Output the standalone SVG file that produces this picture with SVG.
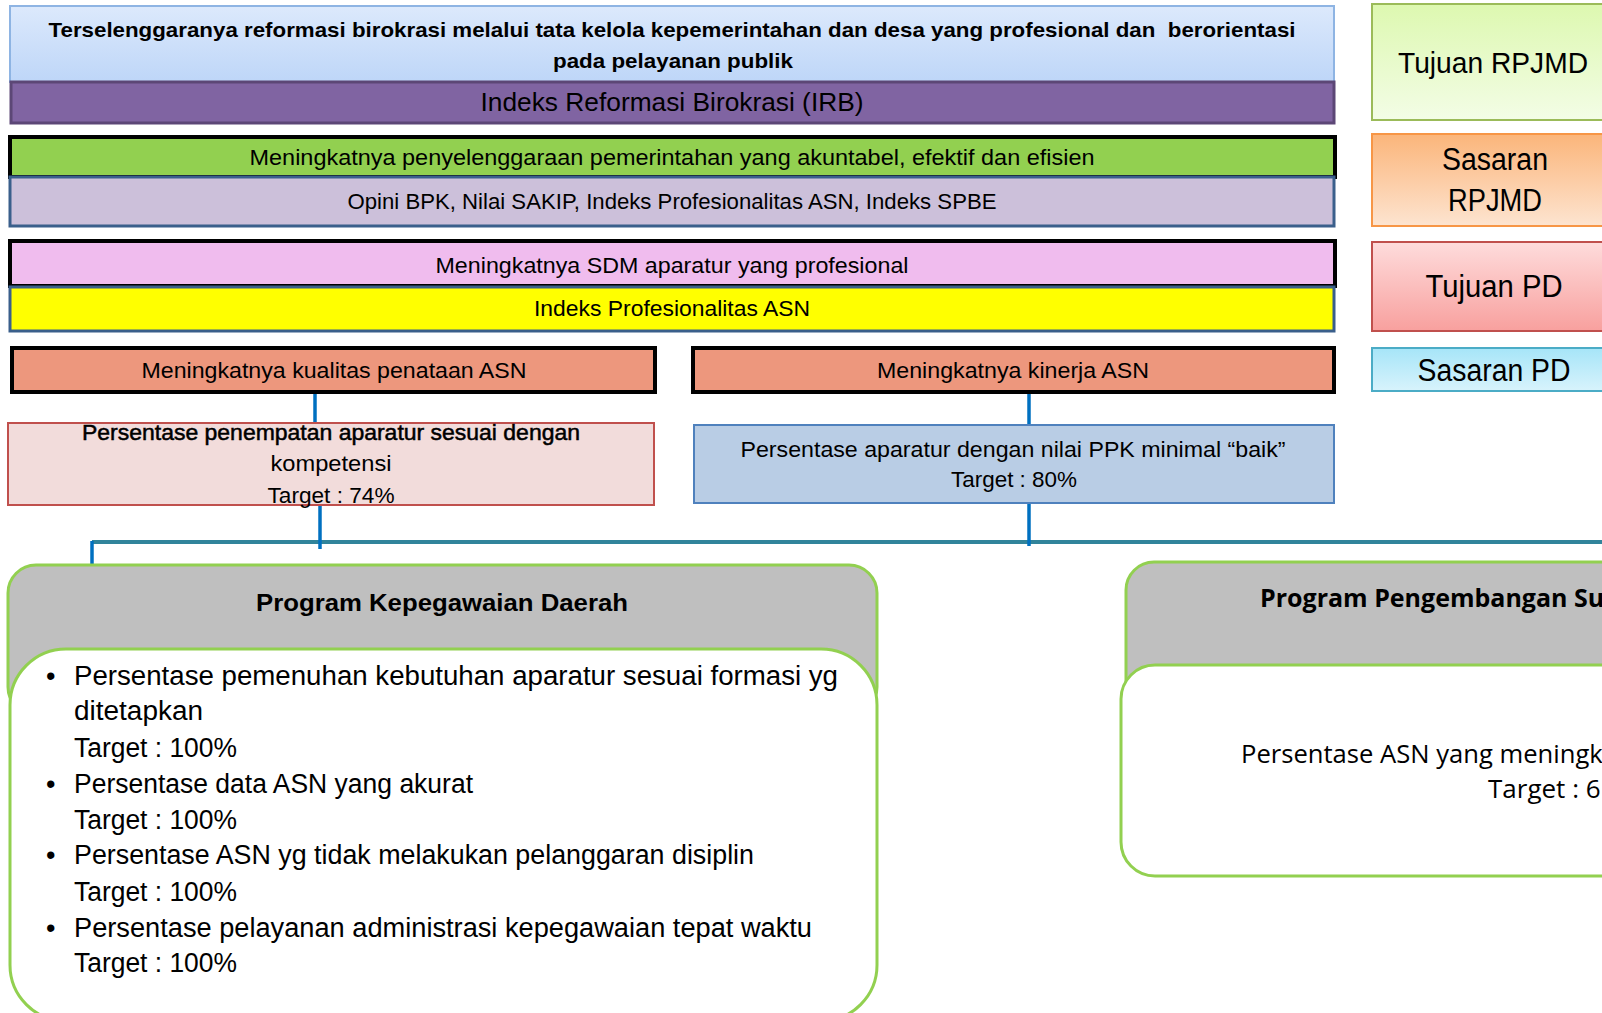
<svg xmlns="http://www.w3.org/2000/svg" width="1602" height="1013" viewBox="0 0 1602 1013">
<defs>
<linearGradient id="gTop" x1="0" y1="0" x2="0" y2="1"><stop offset="0" stop-color="#dce9fc"/><stop offset="1" stop-color="#bed6f8"/></linearGradient>
<linearGradient id="gTR" x1="0" y1="0" x2="0" y2="1"><stop offset="0" stop-color="#ddf8b0"/><stop offset="1" stop-color="#f3fde6"/></linearGradient>
<linearGradient id="gSR" x1="0" y1="0" x2="0" y2="1"><stop offset="0" stop-color="#fbb57a"/><stop offset="1" stop-color="#fde4d0"/></linearGradient>
<linearGradient id="gTP" x1="0" y1="0" x2="0" y2="1"><stop offset="0" stop-color="#fedcdc"/><stop offset="1" stop-color="#f8a09e"/></linearGradient>
<linearGradient id="gSP" x1="0" y1="0" x2="0" y2="1"><stop offset="0" stop-color="#a6e5f8"/><stop offset="1" stop-color="#d8f3fc"/></linearGradient>
</defs>
<style>
text{font-family:"Liberation Sans",Arial,sans-serif;fill:#000}
.c{text-anchor:middle}
.b{font-weight:bold}
.f22{font-size:22px}
.f27{font-size:27px}
.f31{font-size:31px}
.os{font-family:"Open Sans","Noto Sans",sans-serif}
.semi{stroke:#000;stroke-width:0.5}
.vline{stroke:#0070c0;stroke-width:3.5;fill:none}
.hline{stroke:#31849b;stroke-width:4;fill:none}
.prog{fill:#bfbfbf;stroke:#92d050;stroke-width:3}
.inner{fill:#fff;stroke:#92d050;stroke-width:3}
</style>
<rect width="1602" height="1013" fill="#fff"/>

<g id="connectors">
<line class="vline" x1="315" y1="392" x2="315" y2="423"/>
<line class="vline" x1="1029" y1="392" x2="1029" y2="425"/>
<line class="hline" x1="92" y1="542" x2="1604" y2="542"/>
<line class="vline" x1="320" y1="505" x2="320" y2="549"/>
<line class="vline" x1="1029" y1="503" x2="1029" y2="546"/>
<line class="vline" x1="92" y1="541" x2="92" y2="566"/>
</g>

<g id="tujuan-rpjmd-node">
<rect x="10" y="6" width="1324" height="76" fill="url(#gTop)" stroke="#8eb4e3" stroke-width="2"/>
<text class="c b" x="672" y="37" font-size="21" textLength="1247" lengthAdjust="spacingAndGlyphs" xml:space="preserve">Terselenggaranya reformasi birokrasi melalui tata kelola kepemerintahan dan desa yang profesional dan  berorientasi</text>
<text class="c b" x="673" y="68" font-size="21" textLength="240" lengthAdjust="spacingAndGlyphs">pada pelayanan publik</text>
</g>

<g id="irb-node">
<rect x="11" y="82" width="1323" height="41" fill="#8064a2" stroke="#5c4776" stroke-width="3"/>
<text class="c" x="672" y="111" font-size="26" textLength="383" lengthAdjust="spacingAndGlyphs">Indeks Reformasi Birokrasi (IRB)</text>
</g>

<g id="sasaran-rpjmd-node">
<rect x="10" y="137" width="1325" height="40" fill="#92d050" stroke="#000" stroke-width="4"/>
<text class="c f22" x="672" y="165" textLength="845" lengthAdjust="spacingAndGlyphs">Meningkatnya penyelenggaraan pemerintahan yang akuntabel, efektif dan efisien</text>
</g>
<g id="sasaran-rpjmd-indicator">
<rect x="10" y="177" width="1324" height="49" fill="#ccc0da" stroke="#3a5f8b" stroke-width="3"/>
<text class="c f22" x="672" y="209" textLength="649" lengthAdjust="spacingAndGlyphs">Opini BPK, Nilai SAKIP, Indeks Profesionalitas ASN, Indeks SPBE</text>
</g>

<g id="tujuan-pd-node">
<rect x="10" y="241" width="1325" height="45" fill="#f0bcee" stroke="#000" stroke-width="4"/>
<text class="c f22" x="672" y="273" textLength="473" lengthAdjust="spacingAndGlyphs">Meningkatnya SDM aparatur yang profesional</text>
</g>
<g id="tujuan-pd-indicator">
<rect x="10" y="287" width="1324" height="44" fill="#ffff00" stroke="#3a5f8b" stroke-width="3"/>
<text class="c f22" x="672" y="316" textLength="276" lengthAdjust="spacingAndGlyphs">Indeks Profesionalitas ASN</text>
</g>

<g id="sasaran-pd-1">
<rect x="12" y="348" width="643" height="44" fill="#ed977d" stroke="#000" stroke-width="4"/>
<text class="c f22" x="334" y="378" textLength="385" lengthAdjust="spacingAndGlyphs">Meningkatnya kualitas penataan ASN</text>
</g>
<g id="sasaran-pd-2">
<rect x="693" y="348" width="641" height="44" fill="#ed977d" stroke="#000" stroke-width="4"/>
<text class="c f22" x="1013" y="378" textLength="272" lengthAdjust="spacingAndGlyphs">Meningkatnya kinerja ASN</text>
</g>

<g id="indikator-1">
<rect x="8" y="423" width="646" height="82" fill="#f2dcdb" stroke="#c0504d" stroke-width="2"/>
<text class="c f22 semi" x="331" y="440" textLength="498" lengthAdjust="spacingAndGlyphs">Persentase penempatan aparatur sesuai dengan</text>
<text class="c f22" x="331" y="471" textLength="121" lengthAdjust="spacingAndGlyphs">kompetensi</text>
<text class="c f22" x="331" y="503" textLength="127" lengthAdjust="spacingAndGlyphs">Target : 74%</text>
</g>
<g id="indikator-2">
<rect x="694" y="425" width="640" height="78" fill="#b9cde5" stroke="#4f81bd" stroke-width="2"/>
<text class="c f22" x="1013" y="457" textLength="545" lengthAdjust="spacingAndGlyphs">Persentase aparatur dengan nilai PPK minimal “baik”</text>
<text class="c f22" x="1014" y="487" textLength="126" lengthAdjust="spacingAndGlyphs">Target : 80%</text>
</g>

<g id="program-kepegawaian">
<rect class="prog" x="8" y="565" width="869" height="150" rx="28"/>
<text class="c b" x="442" y="611" font-size="24" textLength="372" lengthAdjust="spacingAndGlyphs">Program Kepegawaian Daerah</text>
<rect class="inner" x="10" y="649" width="867" height="372" rx="56"/>
<g class="f27">
<text x="46" y="685">•</text>
<text x="74" y="685" textLength="764" lengthAdjust="spacingAndGlyphs">Persentase pemenuhan kebutuhan aparatur sesuai formasi yg</text>
<text x="74" y="720" textLength="129" lengthAdjust="spacingAndGlyphs">ditetapkan</text>
<text x="74" y="757" textLength="163" lengthAdjust="spacingAndGlyphs">Target : 100%</text>
<text x="46" y="793">•</text>
<text x="74" y="793" textLength="399" lengthAdjust="spacingAndGlyphs">Persentase data ASN yang akurat</text>
<text x="74" y="829" textLength="163" lengthAdjust="spacingAndGlyphs">Target : 100%</text>
<text x="46" y="864">•</text>
<text x="74" y="864" textLength="680" lengthAdjust="spacingAndGlyphs">Persentase ASN yg tidak melakukan pelanggaran disiplin</text>
<text x="74" y="901" textLength="163" lengthAdjust="spacingAndGlyphs">Target : 100%</text>
<text x="46" y="937">•</text>
<text x="74" y="937" textLength="738" lengthAdjust="spacingAndGlyphs">Persentase pelayanan administrasi kepegawaian tepat waktu</text>
<text x="74" y="972" textLength="163" lengthAdjust="spacingAndGlyphs">Target : 100%</text>
</g>
</g>

<g id="program-pengembangan">
<rect class="prog" x="1126" y="562" width="520" height="160" rx="28"/>
<text class="os" x="1260" y="607" font-size="25" font-weight="700">Program Pengembangan Su</text>
<rect class="inner" x="1121" y="665" width="520" height="211" rx="34"/>
<text class="os" x="1241" y="763" font-size="25.6">Persentase ASN yang meningk</text>
<text class="os" x="1488" y="798" font-size="26">Target : 6</text>
</g>

<g id="legend-tujuan-rpjmd">
<rect x="1372" y="4" width="240" height="116" fill="url(#gTR)" stroke="#9bbb59" stroke-width="2"/>
<text class="c" x="1493" y="73" font-size="29" textLength="190" lengthAdjust="spacingAndGlyphs">Tujuan RPJMD</text>
</g>
<g id="legend-sasaran-rpjmd">
<rect x="1372" y="134" width="240" height="92" fill="url(#gSR)" stroke="#f79646" stroke-width="2"/>
<text class="c f31" x="1495" y="170" textLength="106" lengthAdjust="spacingAndGlyphs">Sasaran</text>
<text class="c f31" x="1495" y="211" textLength="94" lengthAdjust="spacingAndGlyphs">RPJMD</text>
</g>
<g id="legend-tujuan-pd">
<rect x="1372" y="242" width="240" height="89" fill="url(#gTP)" stroke="#c0504d" stroke-width="2"/>
<text class="c f31" x="1494" y="297" textLength="137" lengthAdjust="spacingAndGlyphs">Tujuan PD</text>
</g>
<g id="legend-sasaran-pd">
<rect x="1372" y="348" width="240" height="43" fill="url(#gSP)" stroke="#4bacc6" stroke-width="2"/>
<text class="c f31" x="1494" y="381" textLength="153" lengthAdjust="spacingAndGlyphs">Sasaran PD</text>
</g>
</svg>
